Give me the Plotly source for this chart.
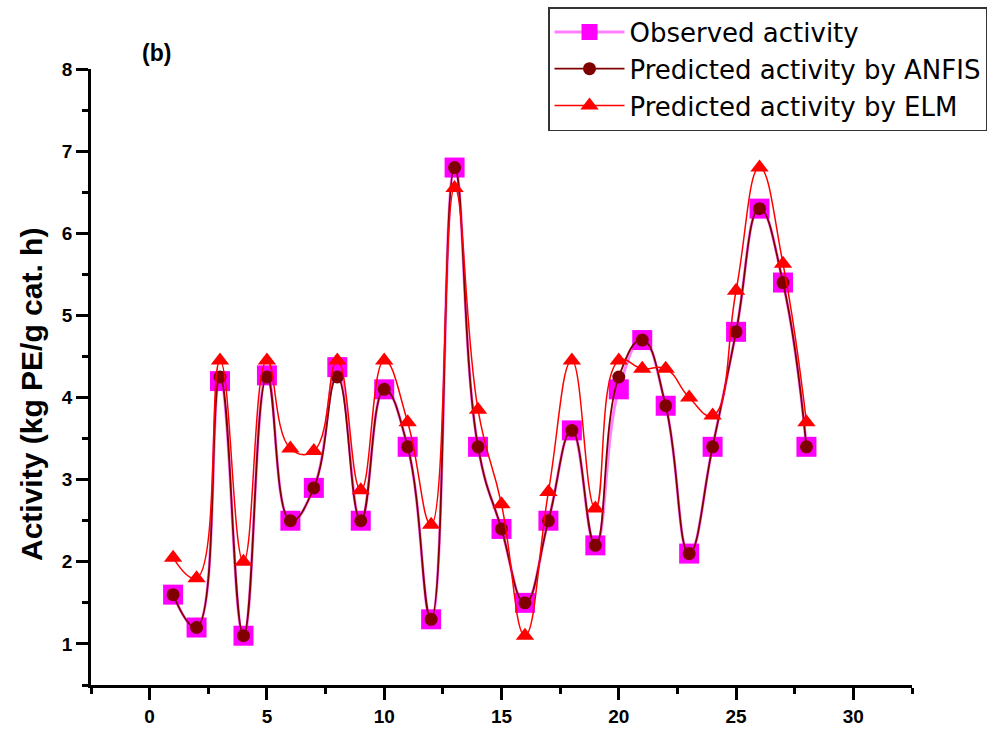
import plotly.graph_objects as go

# ---- data ----
sample = list(range(1, 29))
observed = [1.6, 1.2, 4.2, 1.1, 4.27, 2.5, 2.9, 4.37, 2.5, 4.1, 3.4, 1.3, 6.8, 3.4,
            2.4, 1.5, 2.5, 3.6, 2.2, 4.1, 4.7, 3.9, 2.1, 3.4, 4.8, 6.3, 5.4, 3.4]
anfis = [1.6, 1.2, 4.25, 1.1, 4.25, 2.5, 2.9, 4.25, 2.5, 4.1, 3.4, 1.3, 6.8, 3.4,
         2.4, 1.5, 2.5, 3.6, 2.2, 4.25, 4.7, 3.9, 2.1, 3.4, 4.8, 6.3, 5.4, 3.4]
elm = [2.05, 1.8, 4.45, 2.0, 4.45, 3.38, 3.35, 4.45, 2.87, 4.45, 3.7, 2.45, 6.55, 3.85,
       2.7, 1.1, 2.85, 4.45, 2.65, 4.45, 4.35, 4.35, 4.0, 3.78, 5.3, 6.8, 5.63, 3.7]
series_names = ["Observed activity", "Predicted activity by ANFIS", "Predicted activity by ELM"]
x_ticks = [0, 5, 10, 15, 20, 25, 30]
y_ticks = [1, 2, 3, 4, 5, 6, 7, 8]

fig = go.Figure()
fig.add_trace(go.Scatter(
    x=sample, y=observed, name=series_names[0], mode="lines+markers",
    line=dict(color="#FF80FF", width=3, shape="spline", smoothing=1.3),
    marker=dict(symbol="square", size=20, color="#FF00FF"),
))
fig.add_trace(go.Scatter(
    x=sample, y=anfis, name=series_names[1], mode="lines+markers",
    line=dict(color="#800000", width=1.8, shape="spline", smoothing=1.3),
    marker=dict(symbol="circle", size=13, color="#800000"),
))
fig.add_trace(go.Scatter(
    x=sample, y=elm, name=series_names[2], mode="lines+markers",
    line=dict(color="#FF0000", width=1.5, shape="spline", smoothing=1.3),
    marker=dict(symbol="triangle-up", size=16, color="#FF0000"),
))

tickfont = dict(family="Liberation Sans", size=19, color="black", weight="bold")

fig.update_layout(
    width=989, height=730,
    margin=dict(l=91, r=77, t=69, b=45, autoexpand=False),
    paper_bgcolor="white", plot_bgcolor="white",
    showlegend=True,
    legend=dict(
        x=(548 - 91) / 821, y=(685 - 7) / 616, xanchor="left", yanchor="top",
        bgcolor="white", bordercolor="#333333", borderwidth=1.5,
        font=dict(family="DejaVu Sans", size=26, color="black"),
        itemwidth=70,
    ),
    xaxis=dict(
        range=[-2.5, 32.5], tickvals=x_ticks, showgrid=False, zeroline=False,
        showline=True, linecolor="black", linewidth=2.5,
        ticks="outside", ticklen=12, tickwidth=2.5, tickcolor="black",
        minor=dict(ticks="outside", ticklen=6, tickwidth=2.5, tickcolor="black", dtick=2.5),
        tickfont=tickfont, automargin=False,
    ),
    yaxis=dict(
        range=[0.5, 8], tickvals=y_ticks, showgrid=False, zeroline=False,
        showline=True, linecolor="black", linewidth=2.5,
        ticks="outside", ticklen=12, tickwidth=2.5, tickcolor="black",
        minor=dict(ticks="outside", ticklen=6, tickwidth=2.5, tickcolor="black", dtick=0.5),
        tickfont=tickfont, automargin=False,
    ),
    annotations=[
        dict(text="Activity (kg PE/g cat. h)", textangle=-90, xref="paper", yref="paper",
             x=(31 - 91) / 821, y=(685 - 395) / 616, xanchor="center", yanchor="middle",
             showarrow=False,
             font=dict(family="Liberation Sans", size=30, color="black", weight="bold")),
        dict(text="(b)", xref="paper", yref="paper",
             x=(156 - 91) / 821, y=(685 - 53) / 616, xanchor="center", yanchor="middle",
             showarrow=False,
             font=dict(family="Liberation Sans", size=23, color="black", weight="bold")),
    ],
)

fig.write_html("out.html")
